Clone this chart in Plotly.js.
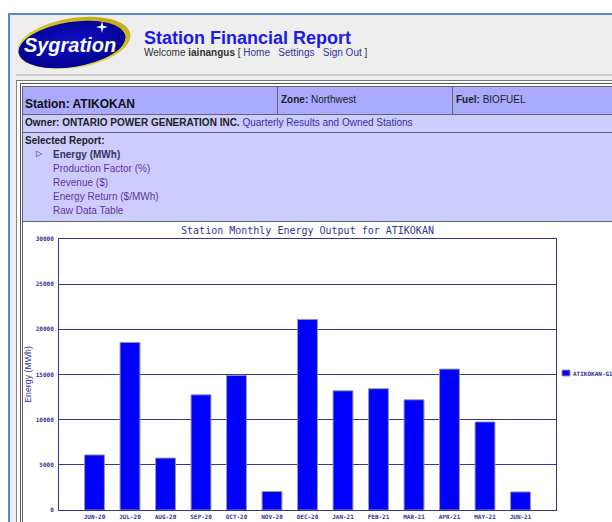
<!DOCTYPE html>
<html><head><meta charset="utf-8">
<script src="https://cdn.plot.ly/plotly-3.0.1.min.js"></script>
<style>
html,body{margin:0;padding:0;width:612px;height:522px;overflow:hidden;background:#fff;font-family:"Liberation Sans",Arial,sans-serif;}
.a{position:absolute;box-sizing:border-box;}
.cell{border:1px solid #666;}
.t{position:absolute;white-space:nowrap;font-size:11px;line-height:1;}
a,.lk{color:#333399;text-decoration:none;}
.vis{color:#663399;}
</style></head>
<body>
<div class="a" style="left:8px;top:13px;width:640px;height:540px;background:#eeeeee;border-left:2px solid #5b86d0;border-top:2px solid #5b86d0;"></div>
<svg class="a" style="left:14px;top:14px" width="124" height="60" viewBox="0 0 124 60">
  <defs>
    <radialGradient id="g" cx="50%" cy="45%" r="60%">
      <stop offset="0" stop-color="#1010c8"/>
      <stop offset="1" stop-color="#00008a"/>
    </radialGradient>
    <linearGradient id="rim" x1="0" y1="1" x2="1" y2="0">
      <stop offset="0" stop-color="#f4f0c0"/>
      <stop offset="0.5" stop-color="#d8c830"/>
      <stop offset="1" stop-color="#b8a000"/>
    </linearGradient>
  </defs>
  <ellipse cx="60" cy="29" rx="57" ry="25" transform="rotate(-9 60 29)" fill="url(#rim)"/>
  <ellipse cx="58" cy="30.5" rx="54" ry="22.5" transform="rotate(-9 58 30.5)" fill="url(#g)"/>
  <text x="56" y="38" text-anchor="middle" font-family="Liberation Sans, Arial" font-weight="bold" font-style="italic" font-size="20" fill="#ffffff">Sygration</text>
  <path d="M88 7 L89.2 11.8 L94 13 L89.2 14.2 L88 19 L86.8 14.2 L82 13 L86.8 11.8 Z" fill="#ffffff"/>
</svg>
<div class="t" style="left:144px;top:29px;font-size:18px;font-weight:bold;color:#1a1aee;">Station Financial Report</div>
<div class="t" style="left:144px;top:48px;font-size:10px;color:#333;">Welcome <b>iainangus</b> [ <span class="lk">Home</span> &nbsp; <span class="lk">Settings</span> &nbsp; <span class="lk">Sign Out</span> ]</div>
<div class="a" style="left:16px;top:74px;width:620px;height:2px;background:#cccccc;"></div>
<div class="a" style="left:16px;top:80px;width:620px;height:460px;background:#fff;border-left:1px solid #888;border-top:1px solid #777;"></div>
<div class="a" style="left:20px;top:83px;width:620px;height:460px;background:#fff;border-left:1px solid #555;border-top:1px solid #555;"></div>
<div class="a cell" style="left:22px;top:86px;width:256px;height:29px;background:#aaaaff;"></div>
<div class="a cell" style="left:277px;top:86px;width:176px;height:29px;background:#aaaaff;"></div>
<div class="a cell" style="left:452px;top:86px;width:200px;height:29px;background:#aaaaff;"></div>
<div class="a cell" style="left:22px;top:114px;width:630px;height:19px;background:#ccccff;"></div>
<div class="a cell" style="left:22px;top:132px;width:630px;height:90px;background:#ccccff;"></div>
<div class="a cell" style="left:22px;top:221px;width:630px;height:320px;background:#ffffff;"></div>
<div class="t" style="left:25px;top:98px;font-size:12px;font-weight:bold;color:#111;">Station: ATIKOKAN</div>
<div class="t" style="left:281px;top:95px;font-size:10px;color:#222;"><b>Zone:</b> Northwest</div>
<div class="t" style="left:456px;top:95px;font-size:10px;color:#222;"><b>Fuel:</b> BIOFUEL</div>
<div class="t" style="left:25px;top:118px;font-size:10px;color:#222;"><b>Owner: ONTARIO POWER GENERATION INC.</b> <span class="lk">Quarterly Results and Owned Stations</span></div>
<div class="t" style="left:25px;top:136px;font-size:10px;color:#222;font-weight:bold;">Selected Report:</div>
<div class="t" style="left:36px;top:150px;font-size:8px;color:#333366;">&#9655;</div>
<div class="t" style="left:53px;top:150px;font-size:10px;color:#333366;font-weight:bold;">Energy (MWh)</div>
<div class="t vis" style="left:53px;top:164px;font-size:10px;">Production Factor (%)</div>
<div class="t vis" style="left:53px;top:178px;font-size:10px;">Revenue ($)</div>
<div class="t vis" style="left:53px;top:192px;font-size:10px;">Energy Return ($/MWh)</div>
<div class="t vis" style="left:53px;top:206px;font-size:10px;">Raw Data Table</div>
<div id="chart" class="a" style="left:22px;top:221px;width:590px;height:301px;"></div>
<script>
const months = ['JUN-20','JUL-20','AUG-20','SEP-20','OCT-20','NOV-20','DEC-20','JAN-21','FEB-21','MAR-21','APR-21','MAY-21','JUN-21'];
const energy = [6100, 18550, 5750, 12750, 14900, 2050, 21100, 13200, 13430, 12200, 15600, 9750, 2000];
const seriesName = 'ATIKOKAN-G1';
const yTicks = [0, 5000, 10000, 15000, 20000, 25000, 30000];

const navy = '#333399';
const barColor = '#0000ff';
const tickFont = {family:'DejaVu Sans Mono', size:6, weight:'bold', color:navy};

const data = [{
  type:'bar', x:months, y:energy, name:seriesName,
  marker:{color:barColor, line:{color:'#999999', width:1}},
  hoverinfo:'skip', showlegend:false
}];
const layout = {
  width:590, height:301,
  margin:{l:37, r:56, t:18, b:12, pad:0, autoexpand:false},
  paper_bgcolor:'rgba(0,0,0,0)', plot_bgcolor:'#ffffff',
  title:{text:'Station Monthly Energy Output for ATIKOKAN', font:{family:'DejaVu Sans Mono', size:10, color:navy},
         x:0.5, xref:'paper', xanchor:'center', y:1, yref:'paper', yanchor:'bottom', pad:{b:5}},
  xaxis:{type:'category', range:[-1,13], showgrid:false, showline:true, mirror:true, linecolor:navy, linewidth:1,
         ticks:'', tickfont:tickFont, automargin:false, fixedrange:true, ticklabelstandoff:1},
  yaxis:{range:[0,30000], tickvals:yTicks, tickformat:'d', showgrid:true, gridcolor:navy, gridwidth:1,
         showline:true, mirror:true, linecolor:navy, linewidth:1, zeroline:false, ticks:'', tickfont:tickFont,
         ticklabelstandoff:3, automargin:false, fixedrange:true,
         title:{text:'Energy (MWh)', font:{family:'Liberation Sans', size:8.8, color:navy}, standoff:2}},
  showlegend:false,
  // legend key drawn as a small swatch + label (matches the original's compact key)
  shapes:[{type:'rect', xref:'paper', yref:'paper', x0:1.0121, x1:1.0282, y0:0.4945, y1:0.5166,
           fillcolor:barColor, line:{color:'#999999', width:1}, layer:'above'}],
  annotations:[{xref:'paper', yref:'paper', x:1.031, y:0.5055, xanchor:'left', yanchor:'middle',
                text:seriesName, showarrow:false, font:tickFont}],
  bargap:0.44
};
Plotly.newPlot('chart', data, layout, {staticPlot:true, displayModeBar:false});
</script>
</body></html>
